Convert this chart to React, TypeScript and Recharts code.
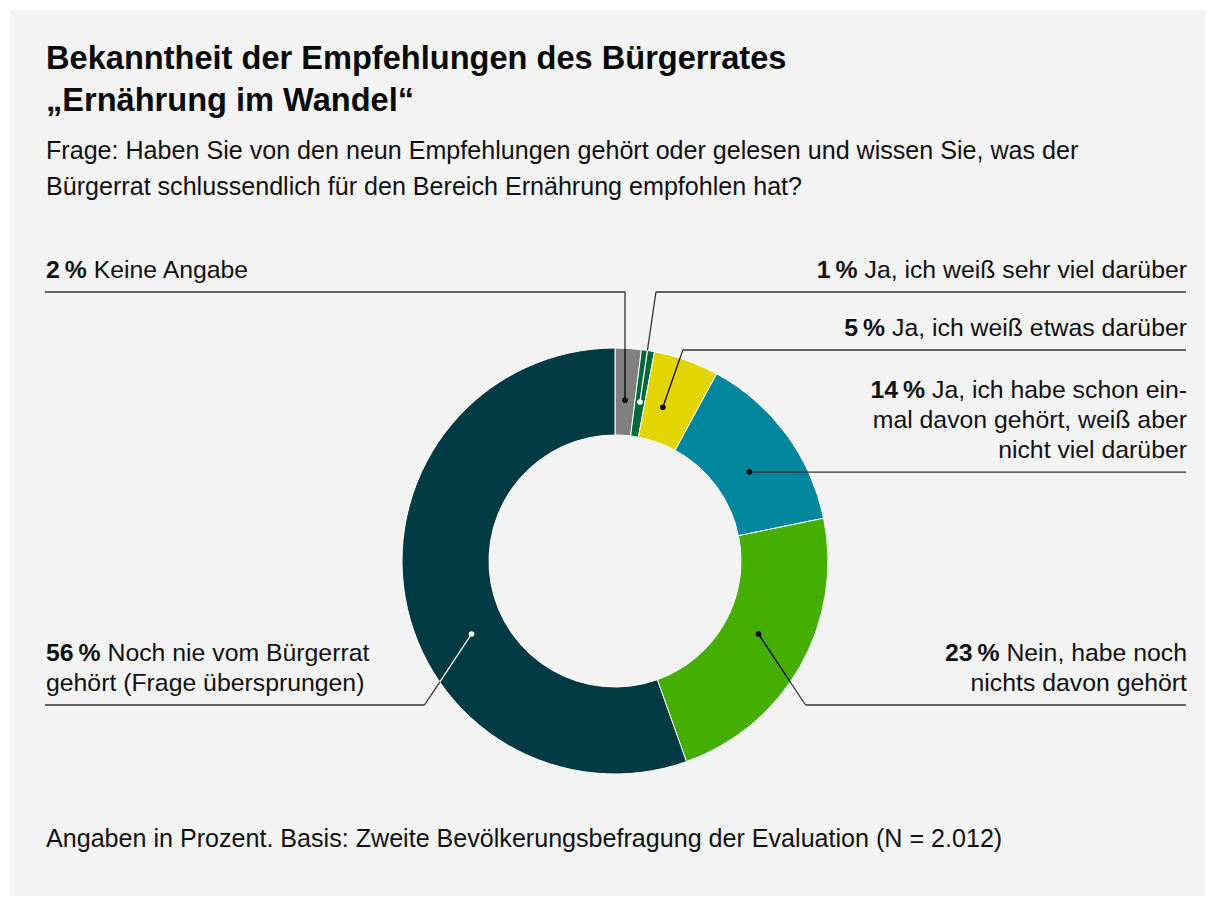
import { PieChart, Pie, Cell } from 'recharts';

// data
const categories = [
  'Keine Angabe',
  'Ja, ich weiß sehr viel darüber',
  'Ja, ich weiß etwas darüber',
  'Ja, ich habe schon ein-\nmal davon gehört, weiß aber\nnicht viel darüber',
  'Nein, habe noch\nnichts davon gehört',
  'Noch nie vom Bürgerrat\ngehört (Frage übersprungen)',
];
const values = [2, 1, 5, 14, 23, 56];

const titleLines = ['Bekanntheit der Empfehlungen des Bürgerrates', '„Ernährung im Wandel“'];
const subtitleLines = [
  'Frage: Haben Sie von den neun Empfehlungen gehört oder gelesen und wissen Sie, was der',
  'Bürgerrat schlussendlich für den Bereich Ernährung empfohlen hat?',
];
const footnote = 'Angaben in Prozent. Basis: Zweite Bevölkerungsbefragung der Evaluation (N = 2.012)';

// styles
const colors = ['#808080', '#006a3b', '#e3d600', '#00879e', '#44af00', '#003b44'];
const dotColors = ['#000', '#fff', '#000', '#000', '#000', '#fff'];
const FONT = 'Liberation Sans, Arimo, Arial, sans-serif';
const LINE = '#333';
const LEFT_X = 46;
const RIGHT_X = 1187;
const LABEL_SIZE = 24.8;

// leader line layout per slice: where in the slice the dot sits (0..1 of its sweep),
// where the horizontal rule runs and how far the elbow is shifted from the dot
const labelLayout = [
  { side: 'left', at: 0.5, lineY: 292, elbowDx: 0 },
  { side: 'right', at: 0.5, lineY: 292, elbowDx: 16 },
  { side: 'right', at: 0.37, lineY: 350, elbowDx: 20 },
  { side: 'right', at: 0.56, lineY: null, elbowDx: 0 },
  { side: 'right', at: 0.47, lineY: 705, elbowDx: 47 },
  { side: 'left', at: 0.414, lineY: 705, elbowDx: -47 },
];

const data = categories.map((name, i) => ({ name, value: values[i] }));

const RAD = Math.PI / 180;

const renderLabel = (props: any) => {
  const { cx, cy, startAngle, endAngle, outerRadius, index, value, name } = props;
  const lay = labelLayout[index];
  const ang = startAngle + (endAngle - startAngle) * lay.at;
  const rDot = 161;
  const px = cx + rDot * Math.cos(-ang * RAD);
  const py = cy + rDot * Math.sin(-ang * RAD);
  const ly = lay.lineY ?? py;
  const ex = px + lay.elbowDx;
  const endX = lay.side === 'left' ? LEFT_X - 1 : RIGHT_X - 1;

  // where the leader leaves the ring
  const vx = ex - px, vy = ly - py;
  const fx = px - cx, fy = py - cy;
  const a = vx * vx + vy * vy;
  const b = 2 * (fx * vx + fy * vy);
  const c = fx * fx + fy * fy - outerRadius * outerRadius;
  let t = 0;
  const disc = b * b - 4 * a * c;
  if (a > 0 && disc >= 0) {
    const tt = (-b + Math.sqrt(disc)) / (2 * a);
    if (tt >= 0 && tt <= 1) t = tt;
  }
  const ox = px + vx * t, oy = py + vy * t;

  const lines = String(name).split('\n');
  const n = lines.length;
  const anchor = lay.side === 'left' ? 'start' : 'end';
  const tx = lay.side === 'left' ? LEFT_X : RIGHT_X;

  return (
    <g key={`lbl-${index}`}>
      {a > 0 && (
        <>
          <line x1={px} y1={py} x2={ox} y2={oy} stroke={dotColors[index]} strokeWidth={1.3} />
          <line x1={ox} y1={oy} x2={ex} y2={ly} stroke={LINE} strokeWidth={1.3} />
        </>
      )}
      <line x1={ex} y1={ly} x2={endX} y2={ly} stroke={LINE} strokeWidth={1.3} />
      <circle cx={px} cy={py} r={2.8} fill={dotColors[index]} />
      {lines.map((ln, i) => (
        <text
          key={i}
          x={tx}
          y={ly - 14 - (n - 1 - i) * 30}
          textAnchor={anchor}
          style={{ fontFamily: FONT }}
          fontSize={LABEL_SIZE}
          fill="#111"
        >
          {i === 0 && <tspan fontWeight="bold">{`${value}\u2009%`}</tspan>}
          {i === 0 ? ` ${ln}` : ln}
        </text>
      ))}
    </g>
  );
};

export default function App() {
  return (
    <div
      style={{
        position: 'absolute',
        left: 0,
        top: 0,
        width: 1215,
        height: 906,
        background: '#fff',
        fontFamily: FONT,
      }}
    >
      <div style={{ position: 'absolute', left: 10, top: 10, width: 1195, height: 886, background: '#f3f3f3' }} />
      <svg width={1215} height={906} style={{ position: 'absolute', left: 0, top: 0, fontFamily: FONT }}>
        {titleLines.map((t, i) => (
          <text key={t} x={46} y={69 + i * 42} fontSize={32.6} fontWeight="bold" fill="#0a0a0a">
            {t}
          </text>
        ))}
        {subtitleLines.map((t, i) => (
          <text key={t} x={46} y={159 + i * 36} fontSize={25.1} fill="#111">
            {t}
          </text>
        ))}
        <text x={46} y={847} fontSize={25.1} fill="#111">
          {footnote}
        </text>
      </svg>
      <div style={{ position: 'absolute', left: 0, top: 0 }}>
        <PieChart width={1215} height={906} margin={{ top: 0, right: 0, bottom: 0, left: 0 }}>
          <Pie
            data={data}
            dataKey="value"
            nameKey="name"
            cx={615}
            cy={561}
            innerRadius={126}
            outerRadius={213}
            startAngle={90}
            endAngle={-270}
            stroke="#fff"
            strokeWidth={1}
            labelLine={false}
            label={renderLabel}
            isAnimationActive={false}
          >
            {data.map((d, i) => (
              <Cell key={d.name} fill={colors[i]} />
            ))}
          </Pie>
        </PieChart>
      </div>
    </div>
  );
}
